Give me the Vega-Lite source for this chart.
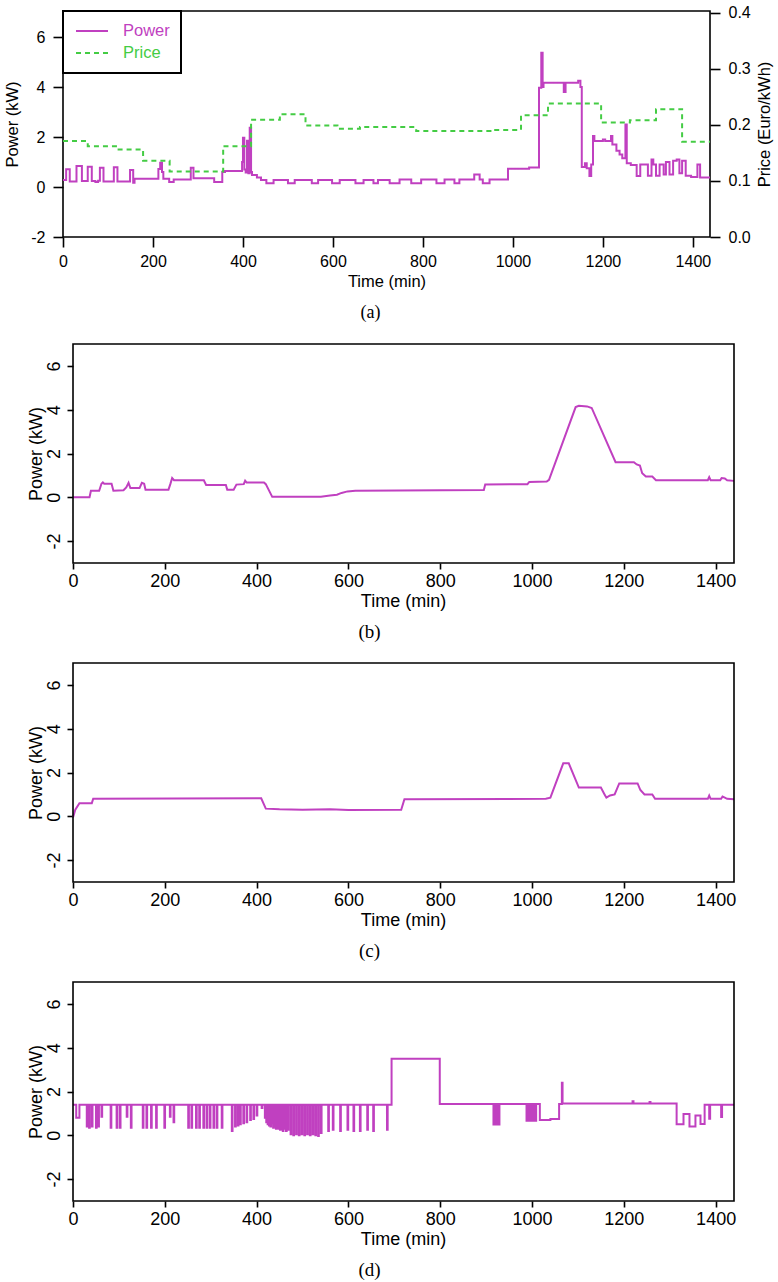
{
  "$schema": "https://vega.github.io/schema/vega-lite/v6.json",
  "background": "white",
  "padding": {"left": 3, "top": 3, "right": 0, "bottom": 0},
  "spacing": 20,
  "config": {
    "view": {"stroke": null},
    "font": "Liberation Sans",
    "axis": {"labelFont": "Liberation Sans", "titleFont": "Liberation Sans", "labelColor": "black", "titleColor": "black", "tickColor": "black", "domainColor": "black", "grid": false, "titleFontWeight": "normal", "tickWidth": 1.6, "labelFlush": false, "labelOverlap": false},
    "title": {"font": "Liberation Serif", "fontWeight": "normal", "color": "black", "frame": "group"}
  },
  "datasets": {
    "a_power": [
      {"t":0,"v":0.28},{"t":7,"v":0.71},{"t":15,"v":0.22},{"t":30,"v":0.84},{"t":42,"v":0.24},{"t":55,"v":0.81},{"t":64,"v":0.24},{"t":72,"v":0.2},{"t":78,"v":0.25},{"t":82,"v":0.77},{"t":90,"v":0.22},{"t":113,"v":0.79},{"t":121,"v":0.22},{"t":149,"v":0.68},{"t":156,"v":0.17},{"t":159,"v":0.33},{"t":212,"v":0.72},{"t":216,"v":0.97},{"t":220,"v":0.6},{"t":223,"v":0.33},{"t":236,"v":0.2},{"t":246,"v":0.3},{"t":284,"v":0.77},{"t":290,"v":0.35},{"t":336,"v":0.2},{"t":354,"v":0.6},{"t":360,"v":0.64},{"t":398,"v":1.0},{"t":400,"v":1.97},{"t":403,"v":0.7},{"t":406,"v":0.58},{"t":409,"v":1.85},{"t":412,"v":0.55},{"t":415,"v":2.37},{"t":418,"v":0.6},{"t":420,"v":0.48},{"t":431,"v":0.38},{"t":440,"v":0.28},{"t":452,"v":0.15},{"t":468,"v":0.28},{"t":500,"v":0.15},{"t":515,"v":0.28},{"t":553,"v":0.15},{"t":567,"v":0.28},{"t":598,"v":0.15},{"t":615,"v":0.28},{"t":650,"v":0.15},{"t":668,"v":0.28},{"t":690,"v":0.15},{"t":700,"v":0.28},{"t":726,"v":0.15},{"t":748,"v":0.3},{"t":774,"v":0.15},{"t":796,"v":0.3},{"t":830,"v":0.15},{"t":848,"v":0.3},{"t":870,"v":0.15},{"t":881,"v":0.3},{"t":914,"v":0.5},{"t":926,"v":0.3},{"t":933,"v":0.15},{"t":948,"v":0.3},{"t":989,"v":0.73},{"t":1036,"v":0.78},{"t":1058,"v":3.97},{"t":1063,"v":5.37},{"t":1066,"v":4.0},{"t":1068,"v":4.17},{"t":1113,"v":3.8},{"t":1117,"v":4.17},{"t":1145,"v":4.25},{"t":1150,"v":4.0},{"t":1153,"v":0.8},{"t":1160,"v":0.95},{"t":1164,"v":0.75},{"t":1170,"v":0.44},{"t":1174,"v":0.9},{"t":1178,"v":2.04},{"t":1181,"v":1.84},{"t":1200,"v":1.9},{"t":1205,"v":1.84},{"t":1218,"v":2.04},{"t":1221,"v":1.7},{"t":1230,"v":1.45},{"t":1237,"v":1.3},{"t":1243,"v":1.15},{"t":1250,"v":2.5},{"t":1253,"v":0.95},{"t":1262,"v":0.88},{"t":1275,"v":0.44},{"t":1283,"v":0.9},{"t":1300,"v":0.45},{"t":1308,"v":1.1},{"t":1312,"v":0.9},{"t":1318,"v":0.45},{"t":1326,"v":0.9},{"t":1335,"v":0.5},{"t":1340,"v":1.0},{"t":1348,"v":0.5},{"t":1356,"v":1.05},{"t":1364,"v":1.1},{"t":1370,"v":0.55},{"t":1376,"v":1.05},{"t":1384,"v":0.45},{"t":1396,"v":0.4},{"t":1410,"v":0.9},{"t":1416,"v":0.38},{"t":1438,"v":0.38}
    ],
    "a_price": [
      {"t":0,"v":0.171},{"t":55,"v":0.162},{"t":120,"v":0.156},{"t":178,"v":0.136},{"t":237,"v":0.117},{"t":356,"v":0.162},{"t":418,"v":0.209},{"t":482,"v":0.219},{"t":539,"v":0.199},{"t":610,"v":0.193},{"t":660,"v":0.196},{"t":785,"v":0.189},{"t":950,"v":0.191},{"t":1018,"v":0.217},{"t":1078,"v":0.238},{"t":1196,"v":0.204},{"t":1260,"v":0.208},{"t":1318,"v":0.228},{"t":1376,"v":0.17},{"t":1438,"v":0.17}
    ],
    "b": [
      {"t":0,"v":0},{"t":36,"v":0},{"t":39,"v":0.3},{"t":57,"v":0.3},{"t":62,"v":0.62},{"t":65,"v":0.68},{"t":68,"v":0.62},{"t":84,"v":0.62},{"t":88,"v":0.3},{"t":110,"v":0.32},{"t":116,"v":0.45},{"t":121,"v":0.66},{"t":125,"v":0.42},{"t":145,"v":0.42},{"t":150,"v":0.66},{"t":155,"v":0.62},{"t":158,"v":0.35},{"t":208,"v":0.35},{"t":212,"v":0.6},{"t":216,"v":0.88},{"t":220,"v":0.78},{"t":285,"v":0.78},{"t":290,"v":0.56},{"t":333,"v":0.56},{"t":336,"v":0.35},{"t":350,"v":0.35},{"t":356,"v":0.58},{"t":372,"v":0.6},{"t":375,"v":0.76},{"t":378,"v":0.68},{"t":416,"v":0.68},{"t":420,"v":0.6},{"t":434,"v":0.02},{"t":540,"v":0.02},{"t":560,"v":0.08},{"t":575,"v":0.12},{"t":585,"v":0.2},{"t":598,"v":0.27},{"t":615,"v":0.3},{"t":895,"v":0.33},{"t":898,"v":0.58},{"t":990,"v":0.6},{"t":994,"v":0.7},{"t":1032,"v":0.72},{"t":1037,"v":0.8},{"t":1095,"v":4.12},{"t":1102,"v":4.18},{"t":1120,"v":4.15},{"t":1130,"v":4.08},{"t":1182,"v":1.6},{"t":1222,"v":1.6},{"t":1228,"v":1.5},{"t":1235,"v":1.45},{"t":1240,"v":1.1},{"t":1248,"v":0.95},{"t":1262,"v":0.95},{"t":1270,"v":0.78},{"t":1383,"v":0.78},{"t":1386,"v":0.92},{"t":1389,"v":0.78},{"t":1410,"v":0.78},{"t":1413,"v":0.88},{"t":1420,"v":0.86},{"t":1425,"v":0.78},{"t":1440,"v":0.75}
    ],
    "c": [
      {"t":0,"v":-0.05},{"t":5,"v":0.3},{"t":14,"v":0.6},{"t":41,"v":0.6},{"t":44,"v":0.8},{"t":410,"v":0.82},{"t":420,"v":0.35},{"t":450,"v":0.32},{"t":500,"v":0.3},{"t":560,"v":0.32},{"t":600,"v":0.29},{"t":715,"v":0.3},{"t":722,"v":0.78},{"t":1030,"v":0.8},{"t":1040,"v":0.85},{"t":1068,"v":2.42},{"t":1080,"v":2.42},{"t":1102,"v":1.31},{"t":1150,"v":1.31},{"t":1158,"v":1.0},{"t":1162,"v":0.85},{"t":1170,"v":0.95},{"t":1180,"v":1.0},{"t":1190,"v":1.5},{"t":1230,"v":1.5},{"t":1236,"v":1.2},{"t":1245,"v":1.0},{"t":1262,"v":1.0},{"t":1268,"v":0.8},{"t":1383,"v":0.8},{"t":1386,"v":0.95},{"t":1389,"v":0.8},{"t":1412,"v":0.8},{"t":1415,"v":0.9},{"t":1420,"v":0.85},{"t":1425,"v":0.8},{"t":1440,"v":0.78}
    ],
    "d": [
      {"t":0,"v":1.4},{"t":7,"v":0.8},{"t":14,"v":1.4},{"t":30,"v":0.4},{"t":31.5,"v":1.4},{"t":35,"v":0.35},{"t":36.5,"v":1.4},{"t":41,"v":0.4},{"t":42.5,"v":1.4},{"t":50,"v":0.35},{"t":51.5,"v":1.4},{"t":55,"v":0.4},{"t":56.5,"v":1.4},{"t":62,"v":0.85},{"t":63.5,"v":1.4},{"t":82,"v":0.35},{"t":83.5,"v":1.4},{"t":95,"v":0.35},{"t":96.5,"v":1.4},{"t":102,"v":0.35},{"t":103.5,"v":1.4},{"t":117,"v":0.85},{"t":118.5,"v":1.4},{"t":126,"v":0.35},{"t":127.5,"v":1.4},{"t":152,"v":0.35},{"t":153.5,"v":1.4},{"t":160,"v":0.35},{"t":161.5,"v":1.4},{"t":170,"v":0.35},{"t":171.5,"v":1.4},{"t":181,"v":0.35},{"t":182.5,"v":1.4},{"t":199,"v":0.35},{"t":200.5,"v":1.4},{"t":211,"v":0.85},{"t":212.5,"v":1.4},{"t":219,"v":0.6},{"t":220.5,"v":1.4},{"t":251,"v":0.35},{"t":252.5,"v":1.4},{"t":258,"v":0.35},{"t":259.5,"v":1.4},{"t":268,"v":0.35},{"t":269.5,"v":1.4},{"t":275,"v":0.35},{"t":276.5,"v":1.4},{"t":284,"v":0.35},{"t":285.5,"v":1.4},{"t":291,"v":0.35},{"t":292.5,"v":1.4},{"t":298,"v":0.35},{"t":299.5,"v":1.4},{"t":306,"v":0.35},{"t":307.5,"v":1.4},{"t":313,"v":0.35},{"t":314.5,"v":1.4},{"t":324,"v":0.35},{"t":325.5,"v":1.4},{"t":346,"v":0.2},{"t":347.5,"v":1.4},{"t":353,"v":0.4},{"t":354.5,"v":1.4},{"t":359,"v":0.45},{"t":360.5,"v":1.4},{"t":364,"v":0.5},{"t":365.5,"v":1.4},{"t":371,"v":0.55},{"t":372.5,"v":1.4},{"t":378,"v":0.6},{"t":379.5,"v":1.4},{"t":386,"v":0.7},{"t":387.5,"v":1.4},{"t":393,"v":0.75},{"t":394.5,"v":1.4},{"t":400,"v":0.9},{"t":401.5,"v":1.4},{"t":411,"v":1.25},{"t":412.5,"v":1.4},{"t":418,"v":0.8},{"t":419.5,"v":1.4},{"t":421,"v":0.6},{"t":422.5,"v":1.4},{"t":424,"v":0.5},{"t":425.5,"v":1.4},{"t":427,"v":0.45},{"t":428.5,"v":1.4},{"t":430,"v":0.4},{"t":431.5,"v":1.4},{"t":433,"v":0.55},{"t":434.5,"v":1.4},{"t":436,"v":0.35},{"t":437.5,"v":1.4},{"t":439,"v":0.4},{"t":440.5,"v":1.4},{"t":442,"v":0.3},{"t":443.5,"v":1.4},{"t":445,"v":0.35},{"t":446.5,"v":1.4},{"t":448,"v":0.3},{"t":449.5,"v":1.4},{"t":451,"v":0.25},{"t":452.5,"v":1.4},{"t":454,"v":0.3},{"t":455.5,"v":1.4},{"t":457,"v":0.2},{"t":458.5,"v":1.4},{"t":461,"v":0.3},{"t":462.5,"v":1.4},{"t":464,"v":0.2},{"t":465.5,"v":1.4},{"t":468,"v":0.25},{"t":469.5,"v":1.4},{"t":474,"v":0.05},{"t":475.5,"v":1.4},{"t":480,"v":0.0},{"t":481.5,"v":1.4},{"t":486,"v":0.05},{"t":487.5,"v":1.4},{"t":492,"v":0.0},{"t":493.5,"v":1.4},{"t":498,"v":0.05},{"t":499.5,"v":1.4},{"t":504,"v":0.0},{"t":505.5,"v":1.4},{"t":510,"v":0.05},{"t":511.5,"v":1.4},{"t":516,"v":0.0},{"t":517.5,"v":1.4},{"t":522,"v":0.05},{"t":523.5,"v":1.4},{"t":528,"v":0.0},{"t":529.5,"v":1.4},{"t":534,"v":-0.03},{"t":535.5,"v":1.4},{"t":540,"v":0.1},{"t":541.5,"v":1.4},{"t":556,"v":0.2},{"t":557.5,"v":1.4},{"t":566,"v":0.25},{"t":567.5,"v":1.4},{"t":582,"v":0.2},{"t":583.5,"v":1.4},{"t":598,"v":0.25},{"t":599.5,"v":1.4},{"t":611,"v":0.2},{"t":612.5,"v":1.4},{"t":625,"v":0.2},{"t":626.5,"v":1.4},{"t":641,"v":0.25},{"t":642.5,"v":1.4},{"t":654,"v":0.2},{"t":655.5,"v":1.4},{"t":684,"v":0.25},{"t":685.5,"v":1.4},{"t":694,"v":3.5},{"t":799,"v":1.43},{"t":916,"v":0.49},{"t":917,"v":1.43},{"t":918,"v":0.49},{"t":919,"v":1.43},{"t":920,"v":0.49},{"t":921,"v":1.43},{"t":922,"v":0.49},{"t":923,"v":1.43},{"t":924,"v":0.49},{"t":925,"v":1.43},{"t":926,"v":0.49},{"t":927,"v":1.43},{"t":928,"v":0.49},{"t":929,"v":1.43},{"t":988,"v":0.67},{"t":989,"v":1.43},{"t":990,"v":0.67},{"t":991,"v":1.43},{"t":992,"v":0.67},{"t":993,"v":1.43},{"t":994,"v":0.67},{"t":995,"v":1.43},{"t":996,"v":0.67},{"t":997,"v":1.43},{"t":998,"v":0.67},{"t":999,"v":1.43},{"t":1000,"v":0.67},{"t":1001,"v":1.43},{"t":1002,"v":0.67},{"t":1003,"v":1.43},{"t":1004,"v":0.67},{"t":1005,"v":1.43},{"t":1006,"v":0.67},{"t":1007,"v":1.43},{"t":1008,"v":0.67},{"t":1009,"v":1.43},{"t":1017,"v":0.7},{"t":1040,"v":0.75},{"t":1059,"v":1.43},{"t":1065,"v":2.4},{"t":1066.5,"v":1.45},{"t":1219,"v":1.55},{"t":1221,"v":1.45},{"t":1256,"v":1.52},{"t":1258,"v":1.45},{"t":1315,"v":0.5},{"t":1330,"v":0.97},{"t":1343,"v":0.4},{"t":1356,"v":0.9},{"t":1367,"v":0.52},{"t":1376,"v":1.4},{"t":1386,"v":0.76},{"t":1388,"v":1.4},{"t":1412,"v":0.83},{"t":1414,"v":1.4},{"t":1440,"v":1.4}
    ]
  },
  "vconcat": [
    {
      "width": 647,
      "height": 226,
      "view": {"stroke": "black", "strokeWidth": 1.6},
      "title": {"text": "(a)", "orient": "bottom", "offset": 14, "fontSize": 18, "dx": -16},
      "layer": [
        {
          "data": {"name": "a_power"},
          "mark": {"type": "line", "interpolate": "step-after", "strokeWidth": 2},
          "encoding": {
            "x": {"field": "t", "type": "quantitative", "scale": {"domain": [0, 1438], "nice": false, "zero": false},
                  "axis": {"values": [0,200,400,600,800,1000,1200,1400], "labelExpr": "'' + datum.value", "title": "Time (min)", "domain": false, "tickSize": 10, "labelPadding": 6, "labelFontSize": 16, "titleFontSize": 16.5, "titlePadding": 4}},
            "y": {"field": "v", "type": "quantitative", "scale": {"domain": [-2, 7.04], "nice": false, "zero": false},
                  "axis": {"values": [-2,0,2,4,6], "labelExpr": "'' + datum.value", "title": "Power (kW)", "domain": false, "tickSize": 10, "labelPadding": 8, "labelFontSize": 16, "titleFontSize": 16.5, "titlePadding": 10}},
            "color": {"datum": "Power", "type": "nominal", "scale": {"domain": ["Power", "Price"], "range": ["#c040c0", "#44cc44"]},
                      "legend": {"title": null, "orient": "top-left", "offset": 0, "padding": 11, "strokeColor": "black", "fillColor": "white", "symbolType": "M-2,0H2", "symbolSize": 256, "symbolStrokeWidth": 2, "symbolOffset": 9, "labelOffset": 22, "labelFontSize": 16.5, "labelFont": "Liberation Sans", "rowPadding": 4,
                                 "encode": {"legend": {"update": {"strokeWidth": {"value": 2}}}, "labels": {"update": {"fill": {"signal": "datum.value === 'Power' ? '#c040c0' : '#44cc44'"}}}}}},
            "strokeDash": {"datum": "Power", "type": "nominal", "scale": {"domain": ["Power", "Price"], "range": [[1, 0], [5, 4]]},
                      "legend": {"title": null, "orient": "top-left", "offset": 0, "padding": 11, "strokeColor": "black", "fillColor": "white", "symbolType": "M-2,0H2", "symbolSize": 256, "symbolStrokeWidth": 2, "symbolOffset": 9, "labelOffset": 22, "labelFontSize": 16.5, "labelFont": "Liberation Sans", "rowPadding": 4,
                                 "encode": {"legend": {"update": {"strokeWidth": {"value": 2}}}, "labels": {"update": {"fill": {"signal": "datum.value === 'Power' ? '#c040c0' : '#44cc44'"}}}}}}
          }
        },
        {
          "data": {"name": "a_price"},
          "mark": {"type": "line", "interpolate": "step-after", "strokeWidth": 2},
          "encoding": {
            "x": {"field": "t", "type": "quantitative"},
            "y": {"field": "v", "type": "quantitative", "scale": {"domain": [0, 0.403], "nice": false, "zero": false},
                  "axis": {"orient": "right", "values": [0, 0.1, 0.2, 0.3, 0.4], "format": ".1f", "title": "Price (Euro/kWh)", "domain": false, "tickSize": 10, "labelPadding": 8, "labelFontSize": 16, "titleFontSize": 16.5, "titleAngle": 270, "titleBaseline": "top", "titlePadding": 6}},
            "color": {"datum": "Price", "type": "nominal"},
            "strokeDash": {"datum": "Price", "type": "nominal"}
          }
        }
      ],
      "resolve": {"scale": {"y": "independent"}}
    },
    {
      "width": 671,
      "height": 219,
      "title": {"text": "(b)", "orient": "bottom", "offset": 13, "fontSize": 19, "dx": -29},
      "layer": [
        {
          "data": {"name": "b"},
          "mark": {"type": "line", "color": "#c040c0", "strokeWidth": 2},
          "encoding": {
            "x": {"field": "t", "type": "quantitative", "scale": {"domain": [-21.8, 1440], "nice": false, "zero": false},
                  "axis": {"values": [0,200,400,600,800,1000,1200,1400], "labelExpr": "'' + datum.value", "title": "Time (min)", "domain": false, "tickSize": 6, "labelPadding": 3, "labelFontSize": 18, "titleFontSize": 18, "titlePadding": 2, "titleX": 340}},
            "y": {"field": "v", "type": "quantitative", "scale": {"domain": [-3, 7], "nice": false, "zero": false},
                  "axis": {"values": [-2,0,2,4,6], "labelExpr": "'' + datum.value", "title": "Power (kW)", "offset": -10, "domain": false, "tickSize": 6, "labelAngle": 270, "labelAlign": "center", "labelBaseline": "bottom", "labelPadding": 4, "labelFontSize": 18, "titleFontSize": 18, "titlePadding": 0}}
          }
        },
        {
          "data": {"values": [{}]},
          "mark": {"type": "rect", "filled": false, "color": "black", "strokeWidth": 1.6},
          "encoding": {
            "x": {"datum": 0, "type": "quantitative"}, "x2": {"datum": 1440},
            "y": {"datum": -3, "type": "quantitative"}, "y2": {"datum": 7}
          }
        }
      ]
    },
    {
      "width": 671,
      "height": 219,
      "title": {"text": "(c)", "orient": "bottom", "offset": 13, "fontSize": 19, "dx": -29},
      "layer": [
        {
          "data": {"name": "c"},
          "mark": {"type": "line", "color": "#c040c0", "strokeWidth": 2},
          "encoding": {
            "x": {"field": "t", "type": "quantitative", "scale": {"domain": [-21.8, 1440], "nice": false, "zero": false},
                  "axis": {"values": [0,200,400,600,800,1000,1200,1400], "labelExpr": "'' + datum.value", "title": "Time (min)", "domain": false, "tickSize": 6, "labelPadding": 3, "labelFontSize": 18, "titleFontSize": 18, "titlePadding": 2, "titleX": 340}},
            "y": {"field": "v", "type": "quantitative", "scale": {"domain": [-3, 7], "nice": false, "zero": false},
                  "axis": {"values": [-2,0,2,4,6], "labelExpr": "'' + datum.value", "title": "Power (kW)", "offset": -10, "domain": false, "tickSize": 6, "labelAngle": 270, "labelAlign": "center", "labelBaseline": "bottom", "labelPadding": 4, "labelFontSize": 18, "titleFontSize": 18, "titlePadding": 0}}
          }
        },
        {
          "data": {"values": [{}]},
          "mark": {"type": "rect", "filled": false, "color": "black", "strokeWidth": 1.6},
          "encoding": {
            "x": {"datum": 0, "type": "quantitative"}, "x2": {"datum": 1440},
            "y": {"datum": -3, "type": "quantitative"}, "y2": {"datum": 7}
          }
        }
      ]
    },
    {
      "width": 671,
      "height": 219,
      "title": {"text": "(d)", "orient": "bottom", "offset": 13, "fontSize": 19, "dx": -29},
      "layer": [
        {
          "data": {"name": "d"},
          "mark": {"type": "line", "color": "#c040c0", "strokeWidth": 2, "interpolate": "step-after"},
          "encoding": {
            "x": {"field": "t", "type": "quantitative", "scale": {"domain": [-21.8, 1440], "nice": false, "zero": false},
                  "axis": {"values": [0,200,400,600,800,1000,1200,1400], "labelExpr": "'' + datum.value", "title": "Time (min)", "domain": false, "tickSize": 6, "labelPadding": 3, "labelFontSize": 18, "titleFontSize": 18, "titlePadding": 2, "titleX": 340}},
            "y": {"field": "v", "type": "quantitative", "scale": {"domain": [-3, 7], "nice": false, "zero": false},
                  "axis": {"values": [-2,0,2,4,6], "labelExpr": "'' + datum.value", "title": "Power (kW)", "offset": -10, "domain": false, "tickSize": 6, "labelAngle": 270, "labelAlign": "center", "labelBaseline": "bottom", "labelPadding": 4, "labelFontSize": 18, "titleFontSize": 18, "titlePadding": 0}}
          }
        },
        {
          "data": {"values": [{}]},
          "mark": {"type": "rect", "filled": false, "color": "black", "strokeWidth": 1.6},
          "encoding": {
            "x": {"datum": 0, "type": "quantitative"}, "x2": {"datum": 1440},
            "y": {"datum": -3, "type": "quantitative"}, "y2": {"datum": 7}
          }
        }
      ]
    }
  ]
}
